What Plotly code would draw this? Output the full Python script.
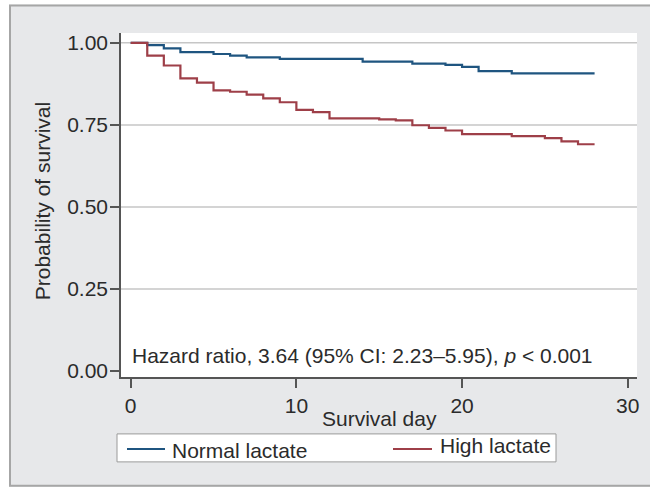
import plotly.graph_objects as go

# ---- data ----
normal_days = [0, 1, 2, 3, 5, 6, 7, 9, 14, 17, 19, 20, 21, 23, 28]
normal_surv = [1.000, 0.993, 0.983, 0.972, 0.966, 0.961, 0.956, 0.951,
               0.943, 0.937, 0.933, 0.927, 0.914, 0.907, 0.907]

high_days = [0, 1, 2, 3, 4, 5, 6, 7, 8, 9, 10, 11, 12, 15, 16, 17, 18, 19,
             20, 23, 25, 26, 27, 28]
high_surv = [1.000, 0.961, 0.931, 0.892, 0.879, 0.855, 0.851, 0.842, 0.831,
             0.819, 0.796, 0.789, 0.770, 0.767, 0.764, 0.749, 0.741, 0.733,
             0.722, 0.716, 0.710, 0.700, 0.691, 0.691]

series_names = ["Normal lactate", "High lactate"]
x_ticks = [0, 10, 20, 30]
y_ticks = [0.0, 0.25, 0.50, 0.75, 1.0]
y_grid = [0.25, 0.50, 0.75, 1.0]

# ---- layout geometry (pixels) ----
W, H = 650, 487
L, R, T, B = 121, 637, 32.5, 377
PW, PH = R - L, B - T


def px(xp):
    return (xp - L) / PW


def py(yp):
    return (B - yp) / PH


FONT = "Liberation Sans, Arial, sans-serif"
TXT = "#2b2b2b"
BLUE = "#1f5580"
RED = "#9e3f48"
BG = "#e7e8ea"
colors = [BLUE, RED]

fig = go.Figure()
for name, xs, ys, c in zip(series_names, [normal_days, high_days],
                           [normal_surv, high_surv], colors):
    fig.add_trace(go.Scatter(x=xs, y=ys, mode="lines", name=name,
                             line=dict(shape="hv", color=c, width=2.2),
                             showlegend=False))

shapes = []
for g in y_grid:
    shapes.append(dict(type="line", xref="paper", yref="y", x0=0, x1=1,
                       y0=g, y1=g, line=dict(color="#c6c6c6", width=1.5),
                       layer="below"))
# outer white margins and border
shapes.append(dict(type="rect", xref="paper", yref="paper",
                   x0=px(-5), x1=px(9), y0=py(-5), y1=py(H + 5),
                   fillcolor="white", line=dict(width=0)))
shapes.append(dict(type="rect", xref="paper", yref="paper",
                   x0=px(-5), x1=px(W + 5), y0=py(-5), y1=py(4),
                   fillcolor="white", line=dict(width=0)))
shapes.append(dict(type="rect", xref="paper", yref="paper",
                   x0=px(10), x1=px(W + 10), y0=py(5), y1=py(486),
                   fillcolor="rgba(0,0,0,0)", line=dict(color="#a6a6a6", width=2)))

# legend box (drawn by hand to match the original spacing)
shapes.append(dict(type="rect", xref="paper", yref="paper",
                   x0=px(117), x1=px(556), y0=py(434), y1=py(462),
                   fillcolor="white", line=dict(color="#9a9a9a", width=1)))
leg_line_x = [(127, 165), (393, 432)]
leg_text_x = [170, 438]
leg_text_y = [451, 446]
annotations = []
for name, c, (a, b), tx, ty in zip(series_names, colors, leg_line_x,
                                   leg_text_x, leg_text_y):
    shapes.append(dict(type="line", xref="paper", yref="paper",
                       x0=px(a), x1=px(b), y0=py(449), y1=py(449),
                       line=dict(color=c, width=2)))
    annotations.append(dict(text=name, xref="paper", yref="paper",
                            x=px(tx), y=py(ty), xanchor="left", yanchor="middle",
                            showarrow=False,
                            font=dict(size=21, color=TXT, family=FONT)))

annotations += [
    dict(text="Hazard ratio, 3.64 (95% CI: 2.23\u20135.95), <i>p</i> < 0.001",
         xref="paper", yref="paper", x=px(130), y=py(355), xanchor="left",
         yanchor="middle", showarrow=False, font=dict(size=21, color=TXT, family=FONT)),
    dict(text="Probability of survival", xref="paper", yref="paper",
         x=px(42), y=py(201), xanchor="center", yanchor="middle", textangle=-90,
         showarrow=False, font=dict(size=21, color=TXT, family=FONT)),
    dict(text="Survival day", xref="paper", yref="paper",
         x=px(379), y=py(419), xanchor="center", yanchor="middle",
         showarrow=False, font=dict(size=21, color=TXT, family=FONT)),
]

fig.update_layout(
    width=W, height=H,
    margin=dict(l=L, r=W - R, t=T, b=H - B, pad=0),
    paper_bgcolor=BG, plot_bgcolor="white",
    font=dict(family=FONT, size=21, color=TXT),
    shapes=shapes, annotations=annotations,
    showlegend=False,
    xaxis=dict(range=[-0.585, 30.56], tickvals=x_ticks, ticks="outside",
               ticklen=9, tickcolor="#555", tickwidth=1.5, showgrid=False,
               zeroline=False, showline=True, linecolor="#555", linewidth=1.5,
               tickfont=dict(size=21, color=TXT), fixedrange=True),
    yaxis=dict(range=[-0.018, 1.030], tickvals=y_ticks, tickformat=".2f",
               ticks="outside", ticklen=9, tickcolor="#555", tickwidth=1.5,
               showgrid=False, zeroline=False, showline=True, linecolor="#555",
               linewidth=1.5, ticklabelstandoff=-2,
               tickfont=dict(size=21, color=TXT), fixedrange=True),
)

fig.write_html("out.html", config={"displayModeBar": False},
               post_script="document.body.style.margin='0';document.body.style.overflow='hidden';")
